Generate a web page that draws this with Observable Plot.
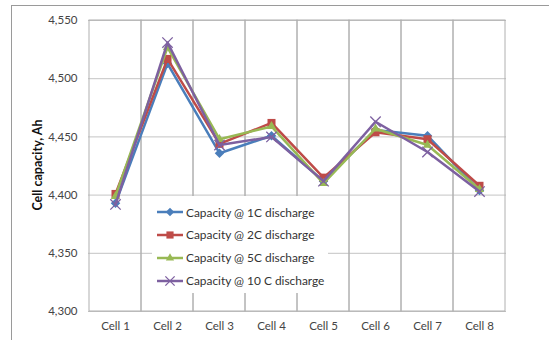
<!DOCTYPE html>
<html>
<head>
<meta charset="utf-8">
<script src="https://cdn.jsdelivr.net/npm/d3@7"></script>
<script src="https://cdn.jsdelivr.net/npm/@observablehq/plot@0.6"></script>
<style>
  html, body { margin: 0; padding: 0; background: #fff; }
  #wrap { position: relative; width: 549px; height: 340px; overflow: hidden; font-family: Lato, "Open Sans", sans-serif; }
  #border { position: absolute; left: 11px; top: 5px; right: -2px; bottom: -2px; border-top: 1px solid #9a9a9a; border-left: 1px solid #9a9a9a; }
  #legend { position: absolute; left: 152px; top: 196px; width: 176px; height: 97px; background: #fff; }
  .row { position: absolute; left: 4px; height: 16px; display: flex; align-items: center; font-size: 11.9px; color: #333; white-space: nowrap; }
  .row svg { margin-right: 2px; }
</style>
</head>
<body>
<div id="wrap"><div id="border"></div></div>
<script>
const cells = ["Cell 1","Cell 2","Cell 3","Cell 4","Cell 5","Cell 6","Cell 7","Cell 8"];
const seriesNames = ["Capacity @ 1C discharge","Capacity @ 2C discharge","Capacity @ 5C discharge","Capacity @ 10 C discharge"];
const cap1C  = [4393, 4513, 4436, 4451, 4412, 4456, 4451, 4404];
const cap2C  = [4401, 4517, 4444, 4462, 4415, 4454, 4448, 4408];
const cap5C  = [4399, 4527, 4448, 4459, 4410, 4457, 4443, 4405];
const cap10C = [4392, 4531, 4443, 4450, 4412, 4463, 4437, 4403];
const yTicks = [4300, 4350, 4400, 4450, 4500, 4550];
const colors = ["#4A7EBB", "#BE4B48", "#98B954", "#7D60A0"];
const symbols = ["diamond2", "square2", "triangle2", "times"];
const sizes = [4.3, 5.1, 4.4, 4.8];

const allSeries = [cap1C, cap2C, cap5C, cap10C];
const yDomain = [yTicks[0], yTicks[yTicks.length - 1]];

const marks = [
  Plot.ruleY(yTicks, {stroke: "#c4c4c4", strokeWidth: 1}),
  Plot.barY(cells, {x: d => d, y1: yDomain[0], y2: yDomain[1], fill: "none", stroke: "#b0b0b0", strokeWidth: 1}),
  Plot.axisY({ticks: yTicks, tickSize: 0, tickPadding: 11, tickFormat: d3.format(","), fontSize: 11.5, fill: "#444", label: null}),
  Plot.axisX({tickSize: 0, tickPadding: 10, fontSize: 11.5, fill: "#444", label: null})
];
allSeries.forEach((vals, i) => {
  const data = cells.map((c, j) => ({cell: c, value: vals[j]}));
  marks.push(Plot.line(data, {x: "cell", y: "value", stroke: colors[i], strokeWidth: 2.5}));
  if (symbols[i] === "times") {
    marks.push(Plot.dot(data, {x: "cell", y: "value", symbol: "times", r: sizes[i], stroke: colors[i], strokeWidth: 1.3, fill: "none"}));
  } else {
    marks.push(Plot.dot(data, {x: "cell", y: "value", symbol: symbols[i], r: sizes[i], fill: colors[i], stroke: "none"}));
  }
});

const chart = Plot.plot({
  width: 549,
  height: 340,
  marginLeft: 88,
  marginRight: 43,
  marginTop: 20,
  marginBottom: 29,
  style: {fontFamily: "Lato, 'Open Sans', sans-serif", background: "transparent", overflow: "visible"},
  x: {type: "band", domain: cells, padding: 0},
  y: {domain: yDomain},
  marks
});
const wrap = document.getElementById("wrap");
chart.style.position = "absolute";
chart.style.left = "0px";
chart.style.top = "0px";
wrap.appendChild(chart);

// y-axis title
const title = document.createElement("div");
title.textContent = "Cell capacity, Ah";
Object.assign(title.style, {
  position: "absolute", left: "37px", top: "165px", transform: "translate(-50%, -50%) rotate(-90deg)",
  fontWeight: "bold", fontSize: "12.5px", color: "#111", whiteSpace: "nowrap"
});
wrap.appendChild(title);

// legend
const legend = document.createElement("div");
legend.id = "legend";
const rowTops = [8, 30.5, 53.5, 76.5];
const symMap = {diamond2: d3.symbolDiamond2, square2: d3.symbolSquare2, triangle2: d3.symbolTriangle2, times: d3.symbolTimes};
seriesNames.forEach((name, i) => {
  const row = document.createElement("div");
  row.className = "row";
  row.style.top = rowTops[i] + "px";
  const svg = d3.create("svg").attr("width", 28).attr("height", 16);
  svg.append("line").attr("x1", 1).attr("x2", 27).attr("y1", 8).attr("y2", 8).attr("stroke", colors[i]).attr("stroke-width", 2.5);
  const path = svg.append("path")
    .attr("transform", "translate(14,8)")
    .attr("d", d3.symbol(symMap[symbols[i]], Math.PI * sizes[i] * sizes[i] * 0.8)());
  if (symbols[i] === "times") path.attr("fill", "none").attr("stroke", colors[i]).attr("stroke-width", 1.3);
  else path.attr("fill", colors[i]);
  row.appendChild(svg.node());
  const t = document.createElement("span");
  t.textContent = name;
  row.appendChild(t);
  legend.appendChild(row);
});
wrap.appendChild(legend);
</script>
</body>
</html>
